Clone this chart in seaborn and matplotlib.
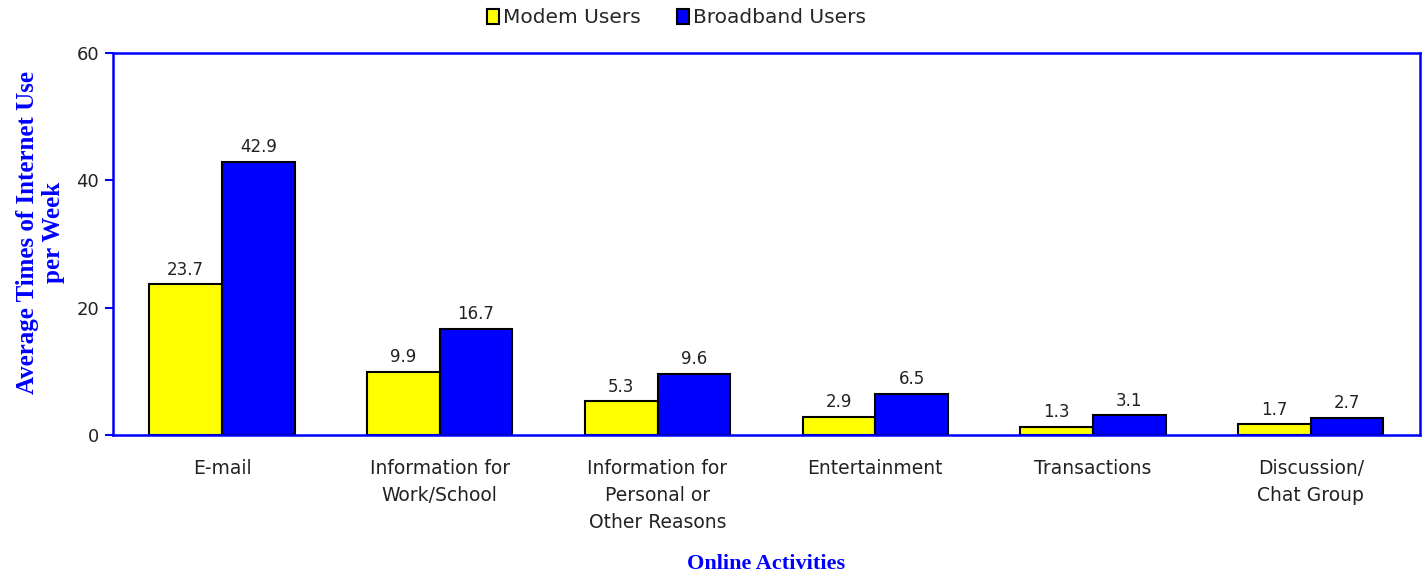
import numpy as np
import pandas as pd
import seaborn as sns
from matplotlib import pyplot as plt
from matplotlib.patches import Patch

# данные
activities = ['E-mail', 'Information for\nWork/School', 'Information for\nPersonal or\nOther Reasons',
              'Entertainment', 'Transactions', 'Discussion/\nChat Group']
modem_users = [23.7, 9.9, 5.3, 2.9, 1.3, 1.7]
broadband_users = [42.9, 16.7, 9.6, 6.5, 3.1, 2.7]
series_names = ['Modem Users', 'Broadband Users']
colors = ['#ffff00', '#0000ff']


def main():
    df = pd.DataFrame({
        'activity': activities * 2,
        'value': modem_users + broadband_users,
        'group': [series_names[0]] * len(activities) + [series_names[1]] * len(activities),
    })

    sns.set_style('white')
    plt.rcParams['font.family'] = ['DejaVu Sans']

    fig = plt.figure(figsize=(14.24, 5.75), dpi=100)
    axes = fig.add_axes([0.0794, 0.2435, 0.9176, 0.6645])

    sns.barplot(data=df, x='activity', y='value', hue='group',
                palette=colors, width=0.667, edgecolor='black', linewidth=1.5,
                saturation=1, legend=False, ax=axes)

    for cont in axes.containers:
        axes.bar_label(cont, fmt='%.1f', padding=4, fontsize=12, color='#222222')

    axes.set_ylim(0, 60)
    axes.set_yticks([0, 20, 40, 60])
    axes.set_xlim(-0.5, len(activities) - 0.5)
    axes.tick_params(axis='y', labelsize=13, length=6, width=1.5, color='#0000ff',
                     left=True, pad=4, labelcolor='#222222')
    axes.tick_params(axis='x', labelsize=13.5, length=0, pad=17, labelcolor='#222222')
    for lbl in axes.get_xticklabels():
        lbl.set_linespacing(1.55)
    for s in axes.spines.values():
        s.set_color('#0000ff')
        s.set_linewidth(1.8)

    axes.set_xlabel('Online Activities', fontsize=16, fontweight='bold',
                    family='Liberation Serif', color='#0000ff', labelpad=16)
    axes.set_ylabel('Average Times of Internet Use\nper Week', fontsize=18, fontweight='bold',
                    family='Liberation Serif', color='#0000ff', linespacing=1.15)
    axes.yaxis.set_label_coords(-0.037, 0.53)

    handles = [Patch(facecolor=c, edgecolor='black', linewidth=1.5, label=n)
               for c, n in zip(colors, series_names)]
    fig.legend(handles=handles, loc='upper center', bbox_to_anchor=(0.475, 1.017), ncol=2,
               frameon=False, fontsize=14.5, handlelength=0.6, handleheight=0.8,
               handletextpad=0.2, columnspacing=1.8)

    fig.savefig('out.png', dpi=100)


if __name__ == '__main__':
    main()
